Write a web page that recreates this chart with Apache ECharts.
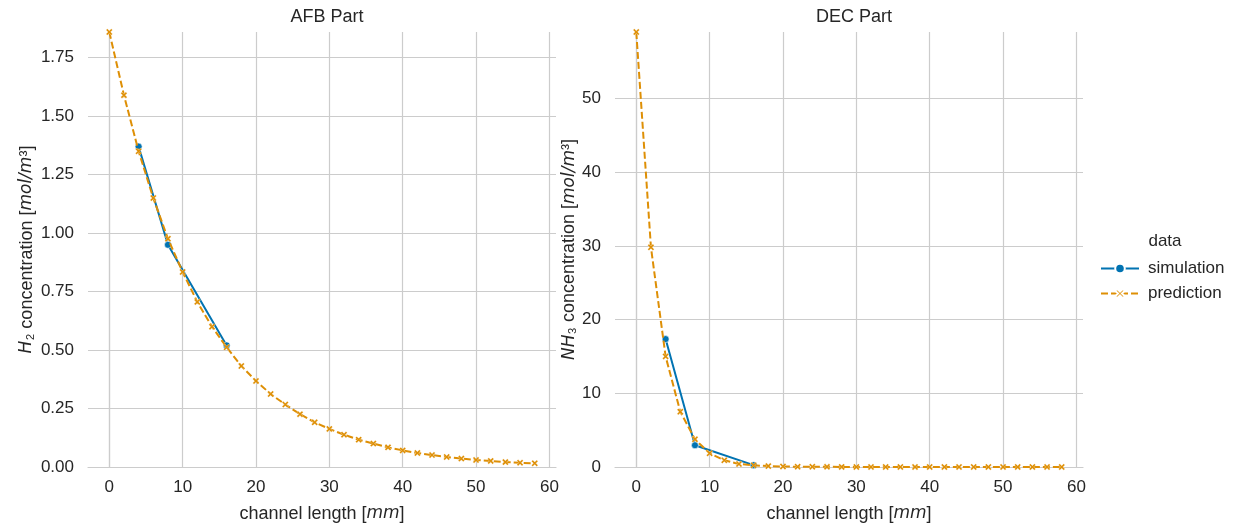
<!DOCTYPE html>
<html>
<head>
<meta charset="utf-8">
<script src="https://cdn.jsdelivr.net/npm/echarts@6/dist/echarts.min.js"></script>
<style>
  html, body { margin: 0; padding: 0; background: #fff; }
  #chart { width: 1239px; height: 526px; }
</style>
</head>
<body>
<div id="chart"></div>
<script>
// channel positions [mm]
const xTicks = [0, 10, 20, 30, 40, 50, 60];
const predX = [0, 2, 4, 6, 8, 10, 12, 14, 16, 18, 20, 22, 24, 26, 28, 30,
               32, 34, 36, 38, 40, 42, 44, 46, 48, 50, 52, 54, 56, 58];
const simX = [4, 8, 16];

// AFB part: H2 concentration [mol/m^3]
const afbTicks = [0, 0.25, 0.5, 0.75, 1.0, 1.25, 1.5, 1.75];
const afbSim = [1.37, 0.95, 0.52];
const afbPred = [1.86, 1.59, 1.35, 1.15, 0.976, 0.834, 0.706, 0.60, 0.512, 0.432,
                 0.368, 0.312, 0.267, 0.226, 0.191, 0.163, 0.138, 0.117, 0.100, 0.084,
                 0.071, 0.060, 0.051, 0.043, 0.036, 0.030, 0.026, 0.021, 0.018, 0.016];

// DEC part: NH3 concentration [mol/m^3]
const decTicks = [0, 10, 20, 30, 40, 50];
const decSim = [17.35, 2.95, 0.25];
const decPred = [59.0, 29.8, 15.0, 7.5, 3.76, 1.86, 0.91, 0.41, 0.23, 0.12,
                 0.07, 0.04, 0.03, 0.02, 0.015, 0.01, 0.01, 0.01, 0.01, 0.01,
                 0.01, 0.01, 0.01, 0.01, 0.01, 0.01, 0.01, 0.01, 0.01, 0.01];

const seriesNames = ['simulation', 'prediction'];

const FONT = '"Liberation Sans", Arial, sans-serif';
const TXT = '#262626';
const GRID = '#cccccc';
const BLUE = '#0173b2';
const ORANGE = '#de8f05';
const CROSS = 'path://M2,0 L5,3 L8,0 L10,2 L7,5 L10,8 L8,10 L5,7 L2,10 L0,8 L3,5 L0,2 Z';

const zip = (xs, ys) => xs.map((x, i) => [x, ys[i]]);

function xAxis(gridIndex) {
  return {
    type: 'value', gridIndex, min: -2.9, max: 60.9,
    name: 'channel length [{i|mm}]', nameLocation: 'middle', nameGap: 38,
    nameTextStyle: { fontFamily: FONT, fontSize: 18, color: TXT,
      rich: { i: { fontFamily: '"DejaVu Sans", sans-serif', fontStyle: 'italic', fontSize: 17, color: TXT } } },
    axisLine: { show: true, onZero: false, lineStyle: { color: GRID, width: 1.2 } },
    axisTick: { show: false, customValues: xTicks },
    axisLabel: { customValues: xTicks, fontFamily: FONT, fontSize: 17, color: TXT, margin: 12 },
    splitLine: { show: true, lineStyle: { color: GRID, width: 1.2 } }
  };
}

function yAxis(gridIndex, max, ticks, label, gap, fmt) {
  return {
    type: 'value', gridIndex, min: 0, max,
    name: label, nameLocation: 'middle', nameGap: gap, nameRotate: 90,
    nameTextStyle: { fontFamily: FONT, fontSize: 18, color: TXT,
      rich: { i: { fontFamily: '"DejaVu Sans", sans-serif', fontStyle: 'italic', fontSize: 17, color: TXT } } },
    axisLine: { show: true, lineStyle: { color: GRID, width: 1.2 } },
    axisTick: { show: false, customValues: ticks },
    axisLabel: { customValues: ticks, fontFamily: FONT, fontSize: 17, color: TXT, margin: 14, formatter: fmt },
    splitLine: { show: true, lineStyle: { color: GRID, width: 1.2 } }
  };
}

function simSeries(xi, data) {
  return {
    name: seriesNames[0], type: 'line', xAxisIndex: xi, yAxisIndex: xi,
    data, symbol: 'circle', symbolSize: 7, showSymbol: true, z: 2,
    lineStyle: { color: BLUE, width: 2 },
    itemStyle: { color: BLUE, borderColor: '#ffffff', borderWidth: 0.6 }
  };
}

function predSeries(xi, data) {
  return {
    name: seriesNames[1], type: 'line', xAxisIndex: xi, yAxisIndex: xi,
    data, symbol: CROSS, symbolSize: 6.5, showSymbol: true, z: 3,
    lineStyle: { color: ORANGE, width: 2, type: [7, 3] },
    itemStyle: { color: ORANGE, borderColor: '#ffffff', borderWidth: 0.3 }
  };
}

const chart = echarts.init(document.getElementById('chart'), null, { renderer: 'canvas' });
chart.setOption({
  animation: false,
  backgroundColor: '#ffffff',
  title: [
    { text: 'AFB Part', left: 322, top: 3, textAlign: 'center',
      textStyle: { fontFamily: FONT, fontSize: 18, fontWeight: 'normal', color: TXT } },
    { text: 'DEC Part', left: 849, top: 3, textAlign: 'center',
      textStyle: { fontFamily: FONT, fontSize: 18, fontWeight: 'normal', color: TXT } },
    { text: 'data', left: 1160, top: 228, textAlign: 'center',
      textStyle: { fontFamily: FONT, fontSize: 17, fontWeight: 'normal', color: TXT } }
  ],
  legend: {
    data: seriesNames, orient: 'vertical', left: 1095, top: 255,
    itemWidth: 38, itemHeight: 12, itemGap: 8,
    lineStyle: { width: 2 },
    textStyle: { fontFamily: FONT, fontSize: 17, color: TXT, padding: [0, 0, 0, 4] }
  },
  grid: [
    { left: 88, right: 683, top: 32, bottom: 59, outerBoundsMode: 'none' },
    { left: 615, right: 156, top: 32, bottom: 59, outerBoundsMode: 'none' }
  ],
  xAxis: [xAxis(0), xAxis(1)],
  yAxis: [
    yAxis(0, 1.86, afbTicks, '{i|H}\u2082 concentration [{i|mol/m}\u00b3]', 52, v => v.toFixed(2)),
    yAxis(1, 59, decTicks, '{i|NH}\u2083 concentration [{i|mol/m}\u00b3]', 32, v => String(v))
  ],
  series: [
    simSeries(0, zip(simX, afbSim)),
    predSeries(0, zip(predX, afbPred)),
    simSeries(1, zip(simX, decSim)),
    predSeries(1, zip(predX, decPred))
  ]
});
</script>
</body>
</html>
